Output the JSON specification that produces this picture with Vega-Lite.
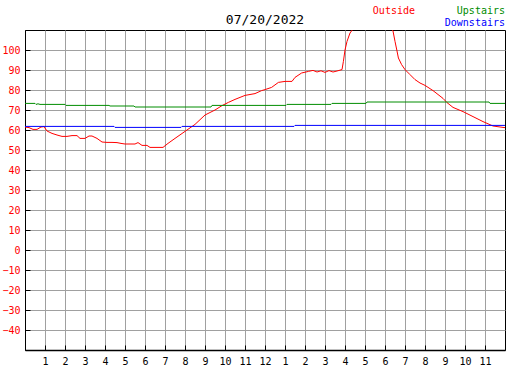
{
  "$schema": "https://vega.github.io/schema/vega-lite/v6.json",
  "width": 480,
  "height": 320,
  "autosize": {"type": "none"},
  "padding": {"left": 25, "top": 30, "right": 22, "bottom": 20},
  "background": "white",
  "config": {
    "view": {"stroke": "black", "strokeWidth": 1},
    "font": "DejaVu Sans Mono",
    "axis": {
      "labelOverlap": false,
      "labelFlush": false,
      "labelBound": false,
      "grid": true,
      "gridColor": "#a0a0a0",
      "gridWidth": 1,
      "gridOpacity": 1,
      "tickSize": -5,
      "tickColor": "black",
      "tickWidth": 1,
      "tickCount": 40,
      "domainColor": "black",
      "labelFont": "DejaVu Sans Mono",
      "labelFontSize": 10,
      "title": null
    }
  },
  "layer": [
    {
      "data": {
        "values": [
          {"h": 0, "v": 61.5, "s": "Outside"},
          {"h": 0.2, "v": 61.2, "s": "Outside"},
          {"h": 0.4, "v": 60.3, "s": "Outside"},
          {"h": 0.6, "v": 60.3, "s": "Outside"},
          {"h": 0.8, "v": 61.5, "s": "Outside"},
          {"h": 0.95, "v": 61.7, "s": "Outside"},
          {"h": 1.1, "v": 59.5, "s": "Outside"},
          {"h": 1.35, "v": 58.3, "s": "Outside"},
          {"h": 1.6, "v": 57.5, "s": "Outside"},
          {"h": 1.85, "v": 56.8, "s": "Outside"},
          {"h": 2.1, "v": 56.8, "s": "Outside"},
          {"h": 2.35, "v": 57.2, "s": "Outside"},
          {"h": 2.6, "v": 57.2, "s": "Outside"},
          {"h": 2.75, "v": 55.8, "s": "Outside"},
          {"h": 3.0, "v": 55.8, "s": "Outside"},
          {"h": 3.2, "v": 57, "s": "Outside"},
          {"h": 3.35, "v": 57, "s": "Outside"},
          {"h": 3.6, "v": 55.8, "s": "Outside"},
          {"h": 3.85, "v": 54, "s": "Outside"},
          {"h": 4.1, "v": 53.8, "s": "Outside"},
          {"h": 4.35, "v": 53.8, "s": "Outside"},
          {"h": 4.6, "v": 53.7, "s": "Outside"},
          {"h": 4.8, "v": 53.3, "s": "Outside"},
          {"h": 5.0, "v": 53, "s": "Outside"},
          {"h": 5.5, "v": 53, "s": "Outside"},
          {"h": 5.65, "v": 53.7, "s": "Outside"},
          {"h": 5.85, "v": 52.3, "s": "Outside"},
          {"h": 6.1, "v": 52.3, "s": "Outside"},
          {"h": 6.25, "v": 51.3, "s": "Outside"},
          {"h": 6.9, "v": 51.3, "s": "Outside"},
          {"h": 7.15, "v": 53.3, "s": "Outside"},
          {"h": 7.5, "v": 55.8, "s": "Outside"},
          {"h": 8.0, "v": 59.3, "s": "Outside"},
          {"h": 8.5, "v": 62.8, "s": "Outside"},
          {"h": 9.0, "v": 67.5, "s": "Outside"},
          {"h": 9.5, "v": 70, "s": "Outside"},
          {"h": 9.85, "v": 72.2, "s": "Outside"},
          {"h": 10.17, "v": 73.8, "s": "Outside"},
          {"h": 10.5, "v": 75.3, "s": "Outside"},
          {"h": 11.0, "v": 77.3, "s": "Outside"},
          {"h": 11.5, "v": 78.2, "s": "Outside"},
          {"h": 11.83, "v": 79.7, "s": "Outside"},
          {"h": 12.0, "v": 80.2, "s": "Outside"},
          {"h": 12.33, "v": 81.3, "s": "Outside"},
          {"h": 12.67, "v": 83.8, "s": "Outside"},
          {"h": 13.0, "v": 84.3, "s": "Outside"},
          {"h": 13.35, "v": 84.3, "s": "Outside"},
          {"h": 13.5, "v": 86.3, "s": "Outside"},
          {"h": 13.83, "v": 88.5, "s": "Outside"},
          {"h": 14.17, "v": 89.3, "s": "Outside"},
          {"h": 14.4, "v": 89.8, "s": "Outside"},
          {"h": 14.6, "v": 89, "s": "Outside"},
          {"h": 14.8, "v": 89.6, "s": "Outside"},
          {"h": 15.0, "v": 88.8, "s": "Outside"},
          {"h": 15.2, "v": 89.7, "s": "Outside"},
          {"h": 15.4, "v": 89, "s": "Outside"},
          {"h": 15.6, "v": 89.5, "s": "Outside"},
          {"h": 15.85, "v": 90.2, "s": "Outside"},
          {"h": 15.92, "v": 94.3, "s": "Outside"},
          {"h": 16.0, "v": 100, "s": "Outside"},
          {"h": 16.1, "v": 104.3, "s": "Outside"},
          {"h": 16.25, "v": 108.5, "s": "Outside"},
          {"h": 16.4, "v": 110.5, "s": "Outside"},
          {"h": 16.7, "v": 114, "s": "Outside"},
          {"h": 17.2, "v": 118, "s": "Outside"},
          {"h": 17.7, "v": 118, "s": "Outside"},
          {"h": 18.1, "v": 114, "s": "Outside"},
          {"h": 18.4, "v": 109.5, "s": "Outside"},
          {"h": 18.5, "v": 104.3, "s": "Outside"},
          {"h": 18.6, "v": 99.5, "s": "Outside"},
          {"h": 18.67, "v": 96, "s": "Outside"},
          {"h": 18.83, "v": 92.7, "s": "Outside"},
          {"h": 19.0, "v": 90.2, "s": "Outside"},
          {"h": 19.25, "v": 87.7, "s": "Outside"},
          {"h": 19.5, "v": 85.2, "s": "Outside"},
          {"h": 19.75, "v": 83.5, "s": "Outside"},
          {"h": 20.0, "v": 82.3, "s": "Outside"},
          {"h": 20.4, "v": 79.7, "s": "Outside"},
          {"h": 20.9, "v": 75.8, "s": "Outside"},
          {"h": 21.1, "v": 73.7, "s": "Outside"},
          {"h": 21.4, "v": 71.3, "s": "Outside"},
          {"h": 21.9, "v": 69.2, "s": "Outside"},
          {"h": 22.4, "v": 66.7, "s": "Outside"},
          {"h": 22.9, "v": 64.2, "s": "Outside"},
          {"h": 23.4, "v": 62, "s": "Outside"},
          {"h": 23.9, "v": 61.3, "s": "Outside"},
          {"h": 24, "v": 61.2, "s": "Outside"},
          {"h": 0, "v": 73.3, "s": "Upstairs"},
          {"h": 0.5, "v": 73.3, "s": "Upstairs"},
          {"h": 0.55, "v": 72.8, "s": "Upstairs"},
          {"h": 0.65, "v": 73.1, "s": "Upstairs"},
          {"h": 0.75, "v": 72.8, "s": "Upstairs"},
          {"h": 2.0, "v": 72.8, "s": "Upstairs"},
          {"h": 2.05, "v": 72.3, "s": "Upstairs"},
          {"h": 4.2, "v": 72.3, "s": "Upstairs"},
          {"h": 4.25, "v": 72.0, "s": "Upstairs"},
          {"h": 5.45, "v": 72.0, "s": "Upstairs"},
          {"h": 5.5, "v": 71.5, "s": "Upstairs"},
          {"h": 9.3, "v": 71.5, "s": "Upstairs"},
          {"h": 9.35, "v": 72.3, "s": "Upstairs"},
          {"h": 13.05, "v": 72.3, "s": "Upstairs"},
          {"h": 13.1, "v": 72.8, "s": "Upstairs"},
          {"h": 15.3, "v": 72.8, "s": "Upstairs"},
          {"h": 15.35, "v": 73.3, "s": "Upstairs"},
          {"h": 17.05, "v": 73.3, "s": "Upstairs"},
          {"h": 17.1, "v": 74, "s": "Upstairs"},
          {"h": 23.2, "v": 74, "s": "Upstairs"},
          {"h": 23.25, "v": 73.3, "s": "Upstairs"},
          {"h": 24, "v": 73.3, "s": "Upstairs"},
          {"h": 0, "v": 61.8, "s": "Downstairs"},
          {"h": 4.45, "v": 61.8, "s": "Downstairs"},
          {"h": 4.5, "v": 61.3, "s": "Downstairs"},
          {"h": 7.8, "v": 61.3, "s": "Downstairs"},
          {"h": 7.85, "v": 61.8, "s": "Downstairs"},
          {"h": 13.45, "v": 61.8, "s": "Downstairs"},
          {"h": 13.5, "v": 62.3, "s": "Downstairs"},
          {"h": 24, "v": 62.3, "s": "Downstairs"}
        ]
      },
      "mark": {"type": "line", "clip": true, "strokeWidth": 1},
      "encoding": {
        "x": {
          "field": "h",
          "type": "quantitative",
          "scale": {"domain": [0, 24], "nice": false, "zero": false},
          "axis": {
            "values": [1, 2, 3, 4, 5, 6, 7, 8, 9, 10, 11, 12, 13, 14, 15, 16, 17, 18, 19, 20, 21, 22, 23],
            "labelExpr": "datum.value > 12 ? datum.value - 12 : datum.value",
            "tickCount": 40,
            "domainWidth": 1.5,
            "labelColor": "black",
            "labelPadding": 11,
            "labelOverlap": false
          }
        },
        "y": {
          "field": "v",
          "type": "quantitative",
          "scale": {"domain": [-50, 110], "nice": false, "zero": false},
          "axis": {
            "values": [-40, -30, -20, -10, 0, 10, 20, 30, 40, 50, 60, 70, 80, 90, 100],
            "tickCount": 40,
            "domainWidth": 1,
            "labelColor": "#ff0000",
            "labelPadding": 10,
            "labelOverlap": false
          }
        },
        "color": {
          "field": "s",
          "type": "nominal",
          "scale": {"domain": ["Outside", "Upstairs", "Downstairs"], "range": ["#ff0000", "#008c00", "#0000ff"]},
          "legend": null
        }
      }
    },
    {
      "data": {"values": [{"t": "Outside", "c": "Outside", "px": 19.5, "py": 119.5},
                          {"t": "Upstairs", "c": "Upstairs", "px": 24, "py": 119.5},
                          {"t": "Downstairs", "c": "Downstairs", "px": 24, "py": 113.5}]},
      "mark": {"type": "text", "align": "right", "baseline": "middle", "font": "DejaVu Sans Mono", "fontSize": 10},
      "encoding": {
        "x": {"field": "px", "type": "quantitative"},
        "y": {"field": "py", "type": "quantitative"},
        "text": {"field": "t"},
        "color": {"field": "c", "type": "nominal", "legend": null}
      }
    },
    {
      "data": {"values": [{"t": "07/20/2022", "px": 12, "py": 115}]},
      "mark": {"type": "text", "align": "center", "baseline": "middle", "font": "DejaVu Sans Mono", "fontSize": 13, "color": "black"},
      "encoding": {
        "x": {"field": "px", "type": "quantitative"},
        "y": {"field": "py", "type": "quantitative"},
        "text": {"field": "t"}
      }
    }
  ]
}
